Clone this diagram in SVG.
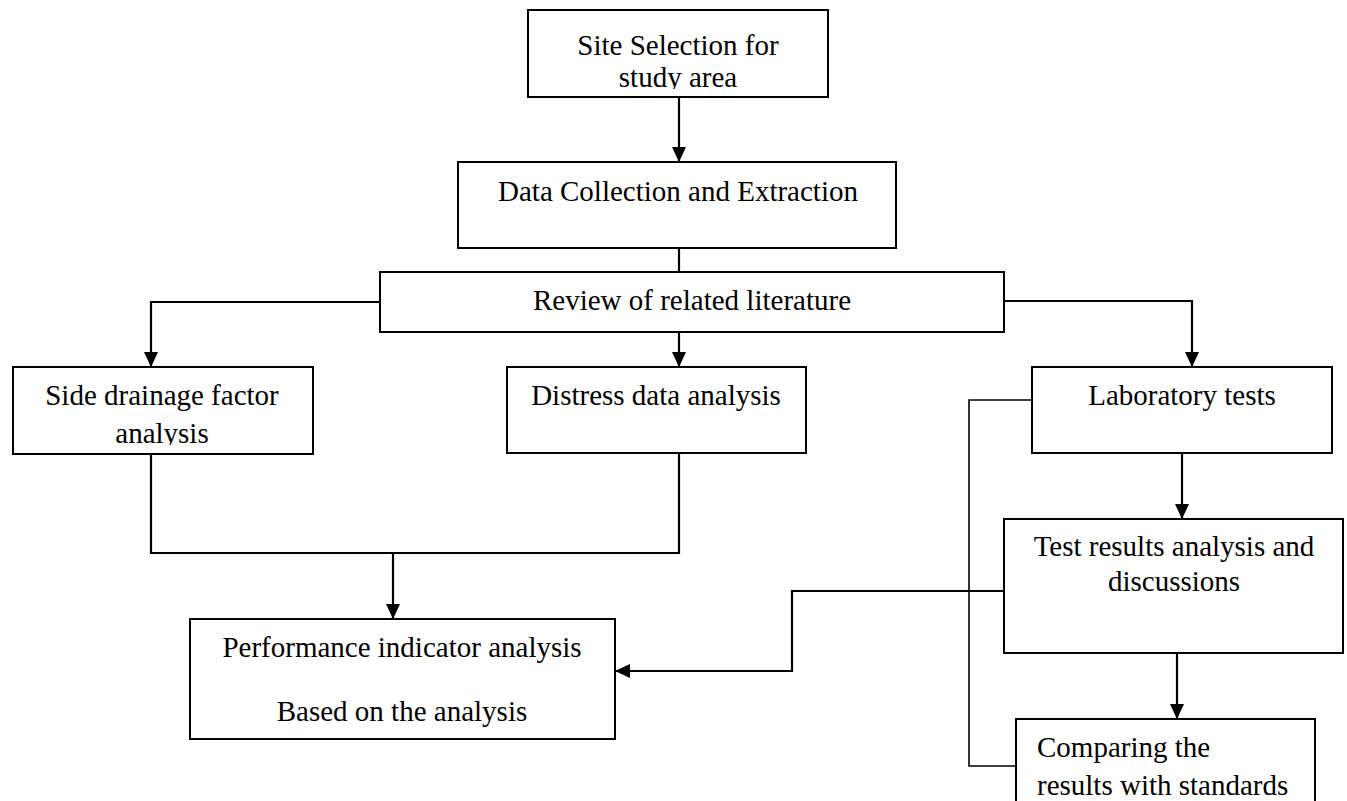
<svg xmlns="http://www.w3.org/2000/svg" width="1347" height="801" viewBox="0 0 1347 801">
  <style>
    .box { fill: #ffffff; stroke: #000000; stroke-width: 2; }
    .lbl { font-family: "Liberation Serif", "Times New Roman", serif; font-size: 29px; fill: #000000; }
    .mid { text-anchor: middle; }
    .conn { fill: none; stroke: #000000; stroke-width: 2.2; }
    .thin { fill: none; stroke: #000000; stroke-width: 1.6; }
  </style>
  <defs>
    <marker id="arrow" markerUnits="userSpaceOnUse" markerWidth="16" markerHeight="15" refX="15" refY="7" orient="auto">
      <path d="M0,0 L15,7 L0,14 z" fill="#000000"/>
    </marker>
    <clipPath id="clipSite"><rect x="528" y="10" width="300" height="79"/></clipPath>
    <clipPath id="clipSide"><rect x="13" y="367" width="300" height="78"/></clipPath>
  </defs>
  <rect width="1347" height="801" fill="#ffffff"/>

  <g id="connectors">
    <line class="conn" x1="679" y1="97" x2="679" y2="162" marker-end="url(#arrow)"/>
    <line class="conn" x1="679" y1="248" x2="679" y2="272"/>
    <polyline class="conn" points="380,302 151,302 151,367" marker-end="url(#arrow)"/>
    <line class="conn" x1="679" y1="332" x2="679" y2="367" marker-end="url(#arrow)"/>
    <polyline class="conn" points="1004,301 1192,301 1192,367" marker-end="url(#arrow)"/>
    <line class="conn" x1="1182" y1="453" x2="1182" y2="519" marker-end="url(#arrow)"/>
    <line class="conn" x1="1177" y1="653" x2="1177" y2="719" marker-end="url(#arrow)"/>
    <polyline class="conn" points="151,454 151,553 679,553 679,453"/>
    <line class="conn" x1="393" y1="553" x2="393" y2="619" marker-end="url(#arrow)"/>
    <polyline class="conn" points="1004,591 792,591 792,671 615,671" marker-end="url(#arrow)"/>
    <polyline class="thin" points="1032,400 969,400 969,766 1016,766"/>
  </g>

  <g id="site">
    <rect class="box" x="528" y="10" width="300" height="87"/>
    <g clip-path="url(#clipSite)">
      <text class="lbl mid" x="678" y="55">Site Selection for</text>
      <text class="lbl mid" x="678" y="87">study area</text>
    </g>
  </g>
  <g id="data">
    <rect class="box" x="458" y="162" width="438" height="86"/>
    <text class="lbl mid" x="678" y="201">Data Collection and Extraction</text>
  </g>
  <g id="review">
    <rect class="box" x="380" y="272" width="624" height="60"/>
    <text class="lbl mid" x="692" y="310">Review of related literature</text>
  </g>
  <g id="side">
    <rect class="box" x="13" y="367" width="300" height="87"/>
    <g clip-path="url(#clipSide)">
      <text class="lbl mid" x="162" y="405">Side drainage factor</text>
      <text class="lbl mid" x="162" y="443">analysis</text>
    </g>
  </g>
  <g id="distress">
    <rect class="box" x="507" y="367" width="299" height="86"/>
    <text class="lbl mid" x="656" y="405">Distress data analysis</text>
  </g>
  <g id="lab">
    <rect class="box" x="1032" y="367" width="300" height="86"/>
    <text class="lbl mid" x="1182" y="405">Laboratory tests</text>
  </g>
  <g id="test">
    <rect class="box" x="1004" y="519" width="339" height="134"/>
    <text class="lbl mid" x="1174" y="556">Test results analysis and</text>
    <text class="lbl mid" x="1174" y="591">discussions</text>
  </g>
  <g id="performance">
    <rect class="box" x="190" y="619" width="425" height="120"/>
    <text class="lbl mid" x="402" y="657">Performance indicator analysis</text>
    <text class="lbl mid" x="402" y="721">Based on the analysis</text>
  </g>
  <g id="compare">
    <rect class="box" x="1016" y="719" width="299" height="100"/>
    <text class="lbl" x="1037" y="757">Comparing the</text>
    <text class="lbl" x="1037" y="795">results with standards</text>
  </g>
</svg>
